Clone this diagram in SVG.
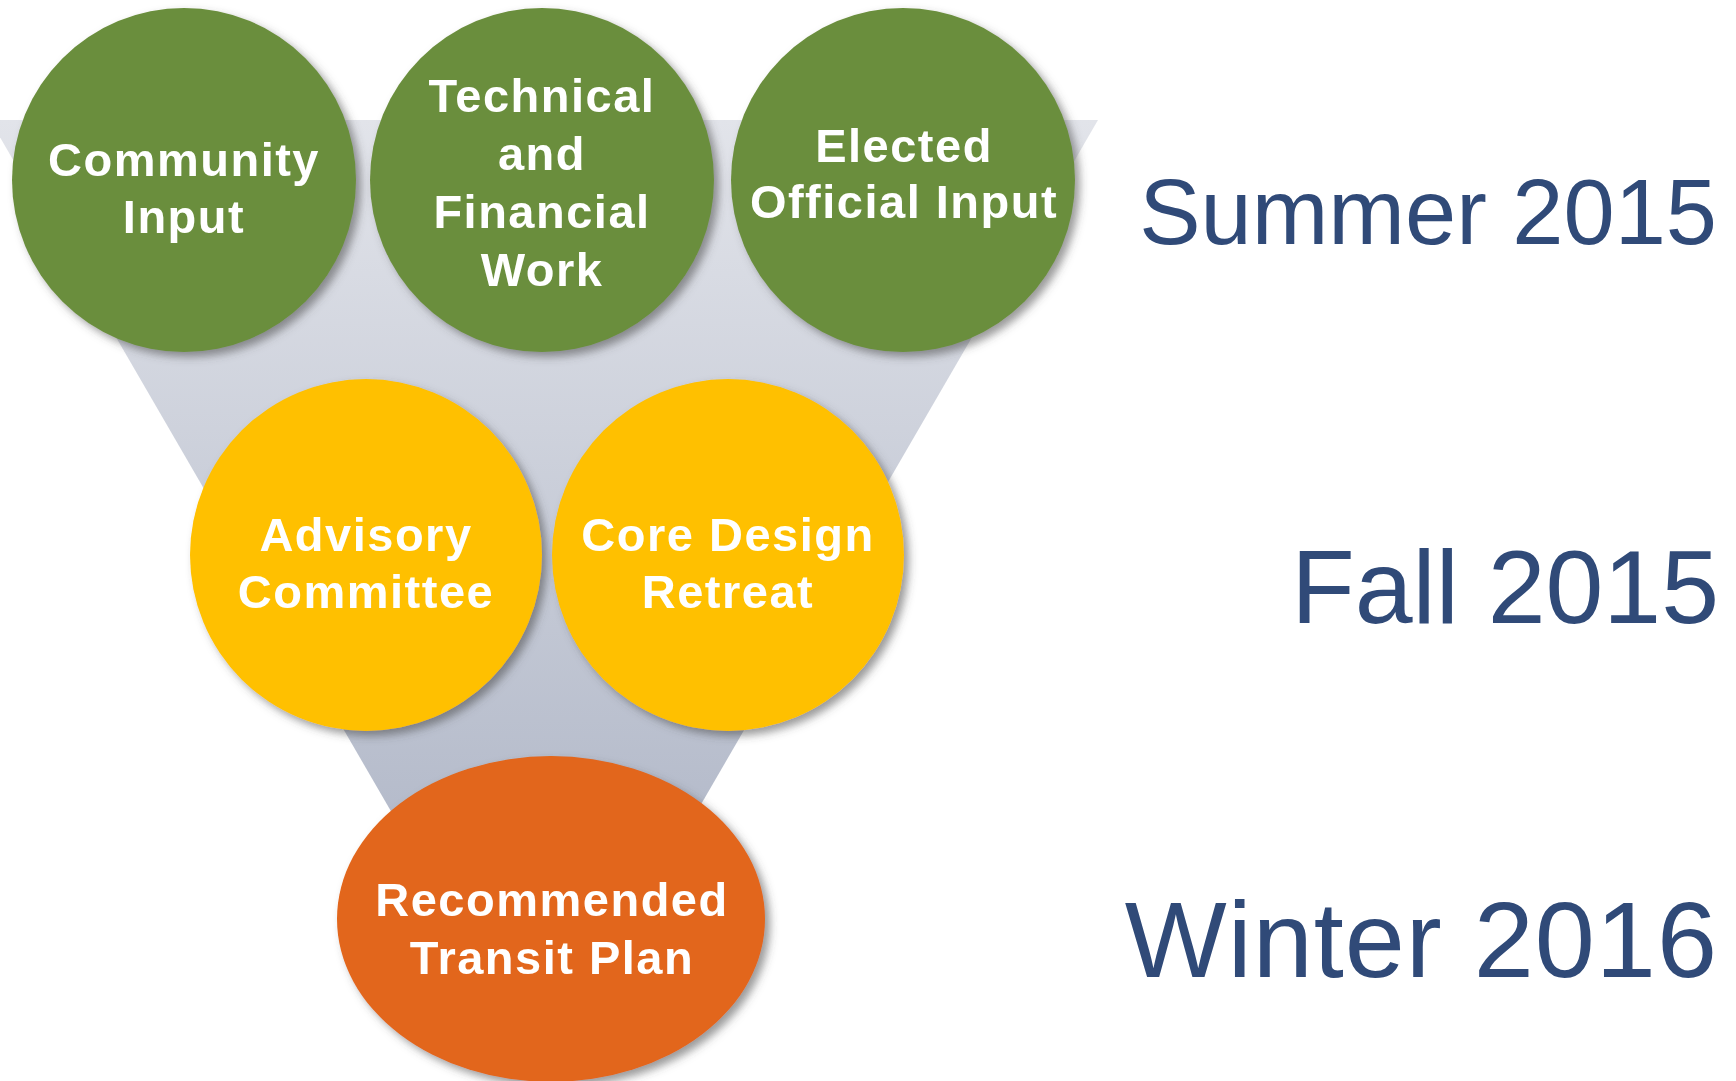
<svg xmlns="http://www.w3.org/2000/svg" width="1736" height="1081" viewBox="0 0 1736 1081">
  <defs>
    <linearGradient id="funnelFill" x1="0" y1="120" x2="0" y2="1075" gradientUnits="userSpaceOnUse">
      <stop offset="0" stop-color="#e2e4ea"/>
      <stop offset="1" stop-color="#a4acbf"/>
    </linearGradient>
    <filter id="shadow" x="-10%" y="-10%" width="125%" height="125%">
      <feDropShadow dx="5" dy="5" stdDeviation="4" flood-color="#4a4a4a" flood-opacity="0.55"/>
    </filter>
    <style>
      .green { fill: #6b8e3d; }
      .yellow { fill: #ffc000; }
      .orange { fill: #e2661a; }
      .node-text { font-family: "Liberation Sans", Arial, sans-serif; font-weight: bold; font-size: 47px; fill: #ffffff; text-anchor: middle; letter-spacing: 1.5px; }
      .season { font-family: "Liberation Sans", Arial, sans-serif; fill: #304a78; text-anchor: end; }
    </style>
  </defs>

  <rect width="1736" height="1081" fill="#ffffff"/>

  <!-- funnel backdrop -->
  <polygon points="-10,120 1098,120 544,1075" fill="url(#funnelFill)"/>

  <!-- top tier -->
  <g id="community-input" filter="url(#shadow)">
    <circle class="green" cx="184" cy="180" r="172"/>
    <text class="node-text" x="184" y="176">Community</text>
    <text class="node-text" x="184" y="233">Input</text>
  </g>
  <g id="technical-financial-work" filter="url(#shadow)">
    <circle class="green" cx="542" cy="180" r="172"/>
    <text class="node-text" x="542" y="112">Technical</text>
    <text class="node-text" x="542" y="170">and</text>
    <text class="node-text" x="542" y="228">Financial</text>
    <text class="node-text" x="542" y="286">Work</text>
  </g>
  <g id="elected-official-input" filter="url(#shadow)">
    <circle class="green" cx="903" cy="180" r="172"/>
    <text class="node-text" x="904" y="162">Elected</text>
    <text class="node-text" x="904" y="218">Official Input</text>
  </g>

  <!-- middle tier -->
  <g id="advisory-committee" filter="url(#shadow)">
    <circle class="yellow" cx="366" cy="555" r="176"/>
    <text class="node-text" x="366" y="551">Advisory</text>
    <text class="node-text" x="366" y="608">Committee</text>
  </g>
  <g id="core-design-retreat" filter="url(#shadow)">
    <circle class="yellow" cx="728" cy="555" r="176"/>
    <text class="node-text" x="728" y="551">Core Design</text>
    <text class="node-text" x="728" y="608">Retreat</text>
  </g>

  <!-- bottom tier -->
  <g id="recommended-transit-plan" filter="url(#shadow)">
    <ellipse class="orange" cx="551" cy="919" rx="214" ry="163"/>
    <text class="node-text" x="552" y="916">Recommended</text>
    <text class="node-text" x="552" y="974">Transit Plan</text>
  </g>

  <!-- timeline labels -->
  <text class="season" x="1717" y="244" font-size="92">Summer 2015</text>
  <text class="season" x="1719" y="623" font-size="104">Fall 2015</text>
  <text class="season" x="1718" y="977" font-size="108" letter-spacing="1">Winter 2016</text>
</svg>
